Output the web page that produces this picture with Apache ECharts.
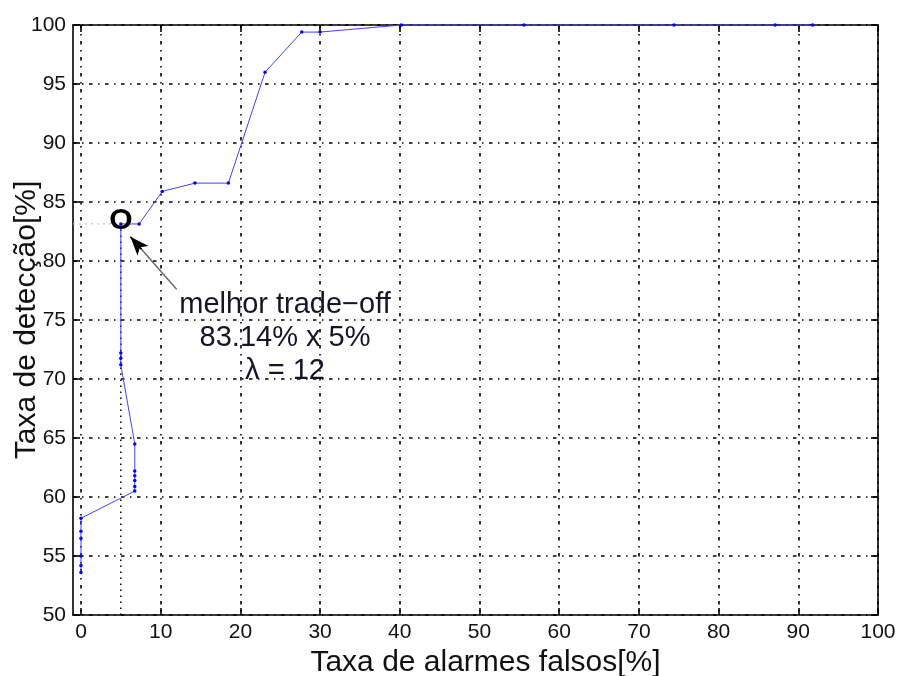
<!DOCTYPE html>
<html>
<head>
<meta charset="utf-8">
<script src="https://cdn.jsdelivr.net/npm/echarts@6/dist/echarts.min.js"></script>
<style>
  html, body { margin: 0; padding: 0; background: #fff; }
  #chart { width: 898px; height: 676px; }
</style>
</head>
<body>
<div id="chart"></div>
<script>
// ROC curve of the detector: false-alarm rate [%] vs. detection rate [%]
const falseAlarm = [0, 0, 0, 0, 0, 0, 6.75, 6.75, 6.75, 6.75, 6.75, 6.75, 5, 5, 5, 5, 7.3, 10.2, 14.3, 18.5, 23.1, 27.7, 30, 40.2, 55.6, 74.4, 87.1, 91.8];
const detection  = [53.6, 54.2, 55.0, 56.5, 57.1, 58.2, 60.5, 60.9, 61.4, 61.8, 62.2, 64.5, 71.2, 71.75, 72.2, 83.14, 83.14, 85.9, 86.6, 86.6, 96.0, 99.4, 99.4, 100, 100, 100, 100, 100];

// Chosen operating point
const bestFalseAlarm = 5;
const bestDetection = 83.14;
const bestLambda = 12;

// Axis tick values
const xTicks = [0, 10, 20, 30, 40, 50, 60, 70, 80, 90, 100];
const yTicks = [50, 55, 60, 65, 70, 75, 80, 85, 90, 95, 100];

const FONT = "'Liberation Sans', Arial, Helvetica, sans-serif";
const INK = '#111';
const gridDash = [3.5, 5.5, 1.5, 5.5];

const curve = falseAlarm.map((x, i) => [x, detection[i]]);
const xMin = -1, xMax = 100;
const yMin = yTicks[0], yMax = yTicks[yTicks.length - 1];

const chart = echarts.init(document.getElementById('chart'), null, { renderer: 'canvas' });

const boxLine = { show: true, onZero: false, lineStyle: { color: '#000', width: 1.6 } };
const innerTick = { show: true, inside: true, length: 7, lineStyle: { color: '#000', width: 1.6 } };

chart.setOption({
  animation: false,
  backgroundColor: '#fff',
  grid: { left: 73, right: 20, top: 25, bottom: 61, containLabel: false, outerBoundsMode: 'none' },
  xAxis: [
    {
      type: 'value', position: 'bottom', min: xMin, max: xMax,
      axisLine: boxLine,
      axisTick: Object.assign({ customValues: xTicks }, innerTick),
      axisLabel: { customValues: xTicks, fontFamily: FONT, fontSize: 21, color: INK, margin: 7 },
      splitLine: { show: true, lineStyle: { color: '#000', width: 1.6, type: gridDash } },
      name: 'Taxa de alarmes falsos[%]',
      nameLocation: 'middle', nameGap: 27,
      nameTextStyle: { fontFamily: FONT, fontSize: 30, color: INK, padding: [0, 0, 0, 20] }
    },
    {
      type: 'value', position: 'top', min: xMin, max: xMax,
      axisLine: boxLine,
      axisTick: Object.assign({ customValues: xTicks }, innerTick),
      axisLabel: { show: false },
      splitLine: { show: false }
    }
  ],
  yAxis: [
    {
      type: 'value', position: 'left', min: yMin, max: yMax, interval: 5,
      axisLine: boxLine,
      axisTick: innerTick,
      axisLabel: { fontFamily: FONT, fontSize: 21, color: INK, margin: 7 },
      splitLine: { show: true, lineStyle: { color: '#000', width: 1.6, type: gridDash } },
      name: 'Taxa de detecção[%]',
      nameLocation: 'middle', nameRotate: 90, nameGap: 31, nameMoveOverlap: false,
      nameTextStyle: { fontFamily: FONT, fontSize: 30, color: INK }
    },
    {
      type: 'value', position: 'right', min: yMin, max: yMax, interval: 5,
      axisLine: boxLine,
      axisTick: innerTick,
      axisLabel: { show: false },
      splitLine: { show: false }
    }
  ],
  series: [
    {
      // dotted guides to the chosen operating point
      type: 'line', xAxisIndex: 0, yAxisIndex: 0, silent: true, symbol: 'none', z: 3,
      data: [[bestFalseAlarm, yMin], [bestFalseAlarm, bestDetection]],
      lineStyle: { color: '#000', width: 1.5, type: [1.5, 4.5] }
    },
    {
      type: 'line', xAxisIndex: 0, yAxisIndex: 0, silent: true, symbol: 'none', z: 3,
      data: [[xMin, bestDetection], [bestFalseAlarm, bestDetection]],
      lineStyle: { color: '#c4c4c4', width: 1.2, type: [2, 4] }
    },
    {
      name: 'ROC', type: 'line', xAxisIndex: 0, yAxisIndex: 0, z: 5, clip: false,
      data: curve,
      showSymbol: true, symbol: 'circle', symbolSize: 3.5,
      lineStyle: { color: '#4040ff', width: 1 },
      itemStyle: { color: '#0000ff' },
      markLine: {
        silent: true, symbol: ['none', 'none'], label: { show: false },
        lineStyle: { color: '#6a6a6a', width: 1.5, type: 'solid' },
        data: [[{ coord: [12.0, 77.6] }, { coord: [7.2, 81.3] }]]
      }
    },
    {
      // arrow head pointing at the chosen point
      type: 'line', xAxisIndex: 0, yAxisIndex: 0, z: 6, symbol: 'none', data: [],
      markLine: {
        silent: true, symbol: ['none', 'arrow'], symbolSize: [11, 19], label: { show: false },
        lineStyle: { color: '#000', width: 1.5, type: 'solid' },
        data: [[{ coord: [7.6, 81.0] }, { coord: [6.2, 82.06] }]]
      }
    }
  ]
});

// Text annotations, placed in data coordinates
function placeNotes() {
  const mark = chart.convertToPixel({ xAxisIndex: 0, yAxisIndex: 0 }, [bestFalseAlarm, bestDetection]);
  const note = chart.convertToPixel({ xAxisIndex: 0, yAxisIndex: 0 }, [25.6, 73.47]);
  chart.setOption({
    graphic: [
      {
        type: 'text', x: mark[0], y: mark[1] - 3, z: 100, silent: true,
        style: {
          text: 'O', align: 'center', verticalAlign: 'middle',
          font: 'bold 30px ' + FONT, fill: '#000'
        }
      },
      {
        type: 'text', x: note[0], y: note[1], z: 100, silent: true,
        style: {
          text: 'melhor trade\u2212off\n' + bestDetection + '% x ' + bestFalseAlarm + '%\n\u03bb = ' + bestLambda,
          align: 'center', verticalAlign: 'middle', lineHeight: 33,
          font: '29px ' + FONT, fill: '#15152a'
        }
      }
    ]
  });
}
placeNotes();
</script>
</body>
</html>
